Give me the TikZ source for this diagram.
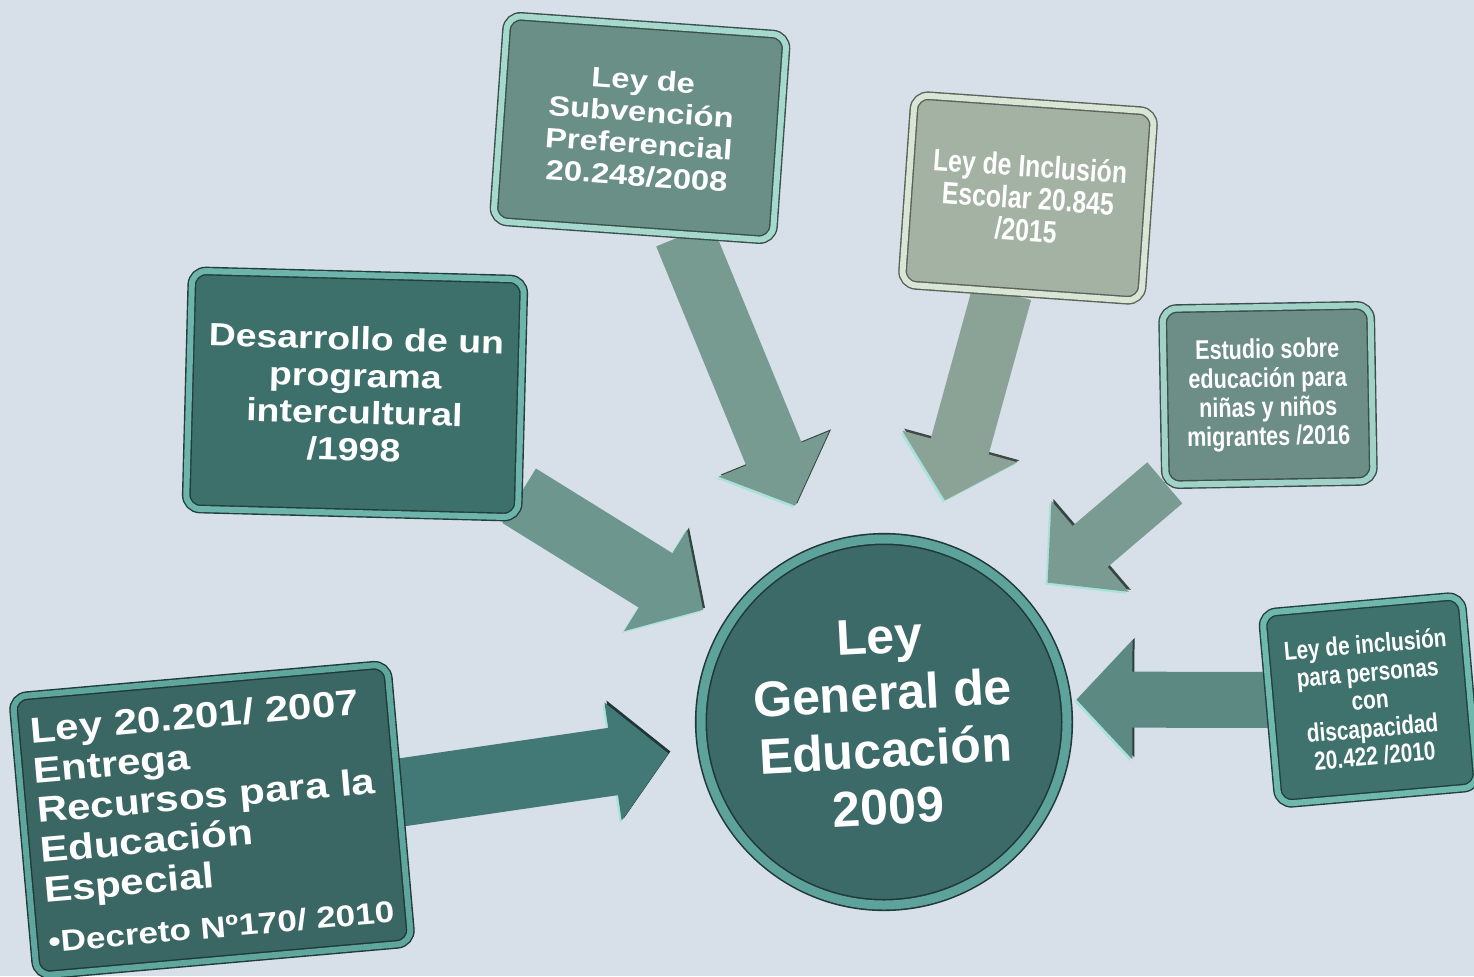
\documentclass[tikz,border=0pt]{standalone}
\usepackage{fontspec}
\setmainfont{Liberation Sans}
\newfontfamily\anchafont[FakeStretch=1.17]{Liberation Sans}
\newfontfamily\estrechafont[FakeStretch=0.8]{Liberation Sans}
\usetikzlibrary{arrows.meta}

\definecolor{fondoazul}{HTML}{D7DFE8}
\definecolor{circulo}{HTML}{3C6A68}
\definecolor{rimcirc}{HTML}{5DA29B}
\definecolor{cajaA}{HTML}{3E706B}
\definecolor{rimA}{HTML}{6DB5AC}
\definecolor{cajaB}{HTML}{6A8F87}
\definecolor{rimB}{HTML}{A6D9CE}
\definecolor{cajaC}{HTML}{A4B2A4}
\definecolor{rimC}{HTML}{D9E6D6}
\definecolor{cajaD}{HTML}{6C8E86}
\definecolor{rimD}{HTML}{A0D2C7}
\definecolor{cajaE}{HTML}{40726D}
\definecolor{rimE}{HTML}{6FB8AE}
\definecolor{cajaF}{HTML}{3A6663}
\definecolor{rimF}{HTML}{5FA69E}
\definecolor{flechaA}{HTML}{6C968E}
\definecolor{flechaB}{HTML}{789B91}
\definecolor{flechaC}{HTML}{8AA396}
\definecolor{flechaD}{HTML}{7A9B92}
\definecolor{flechaE}{HTML}{5D8983}
\definecolor{flechaF}{HTML}{427875}
\definecolor{rimlight}{HTML}{A8E2D8}

\pgfdeclarelayer{fondo}
\pgfdeclarelayer{flechas}
\pgfsetlayers{fondo,flechas,main}

\begin{document}
\begin{tikzpicture}[x=0.5pt, y=-0.5pt,
    caja/.style 2 args={rectangle, rounded corners=7pt, fill=#1, draw=#1!55!black, double=#2, double distance=3pt, line width=0.7pt, text=white, align=center, inner sep=3pt},
    flecha/.style 2 args={draw=#1, line width=#2, -{Triangle[length=28pt, width=58pt]},
        preaction={draw=#1!45!black, transform canvas={shift={(2,-2)}}},
        preaction={draw=rimlight, transform canvas={shift={(-2,2)}}}}]
    \useasboundingbox (0,0) rectangle (1474,976);
    \begin{pgfonlayer}{fondo}
        \fill[fondoazul] (0,0) rectangle (1474,976);
    \end{pgfonlayer}

    \node[circle, minimum size=183pt, fill=circulo, draw=circulo!55!black, double=rimcirc, double distance=4.5pt, line width=0.8pt, text=white, align=center, rotate=3, font=\bfseries\fontsize{25}{28.5}\selectfont] (ley) at (884,722) {Ley\\General de\\Educación\\2009};

    \node[caja={cajaA}{rimA}, minimum width=166pt, minimum height=119pt, rotate=-1.5, font=\anchafont\bfseries\fontsize{16}{18.5}\selectfont] (intercultural) at (355,394) {Desarrollo de un\\programa\\intercultural\\/1998};
    \node[caja={cajaB}{rimB}, minimum width=140pt, minimum height=103pt, rotate=-4, font=\anchafont\bfseries\fontsize{14}{16}\selectfont] (subvencion) at (640,128) {Ley de\\Subvención\\Preferencial\\20.248/2008};
    \node[caja={cajaC}{rimC}, minimum width=120pt, minimum height=95pt, rotate=-4, font=\estrechafont\bfseries\fontsize{15.5}{16}\selectfont] (inclusion) at (1028,198) {Ley de Inclusión\\Escolar 20.845\\/2015};
    \node[caja={cajaD}{rimD}, minimum width=104pt, minimum height=88pt, rotate=1, font=\estrechafont\bfseries\fontsize{13.5}{14.5}\selectfont] (migrantes) at (1268,395) {Estudio sobre\\educación para\\niñas y niños\\migrantes /2016};
    \node[caja={cajaE}{rimE}, minimum width=100pt, minimum height=96pt, rotate=5, font=\estrechafont\bfseries\fontsize{13}{14}\selectfont] (discapacidad) at (1370,700) {Ley de inclusión\\para personas\\con\\discapacidad\\20.422 /2010};
    \node[caja={cajaF}{rimF}, minimum width=188pt, minimum height=140pt, rotate=5, align=left, font=\anchafont\bfseries\fontsize{18}{20}\selectfont] (especial) at (212,820) {Ley 20.201/ 2007\\Entrega\\Recursos para la\\Educación\\Especial\\[5pt]{\fontsize{15}{20}\selectfont\textbullet Decreto Nº170/ 2010}};

    \begin{pgfonlayer}{flechas}
        \draw[flecha={flechaA}{32pt}, shorten >=14.5pt] (intercultural) -- (ley);
        \draw[flecha={flechaB}{30pt}, shorten >=25pt] (subvencion) -- (ley);
        \draw[flecha={flechaC}{30pt}, shorten >=23pt] (inclusion) -- (ley);
        \draw[flecha={flechaD}{27pt}, shorten >=15.5pt] (migrantes) -- (ley);
        \draw[flecha={flechaE}{28pt}, shorten >=5pt] (discapacidad) -- (ley.4);
        \draw[flecha={flechaF}{34pt}, shorten >=17pt] (especial) -- (ley);
    \end{pgfonlayer}
\end{tikzpicture}
\end{document}
